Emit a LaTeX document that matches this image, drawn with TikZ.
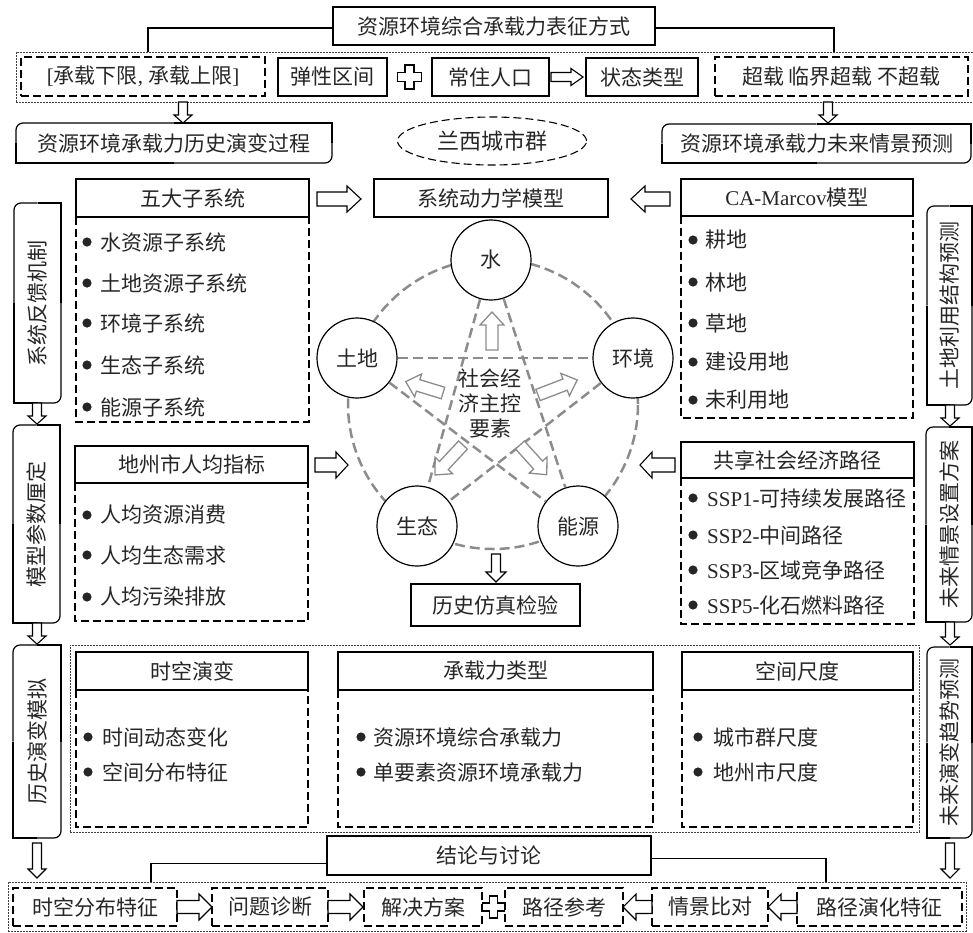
\documentclass[tikz,border=0pt]{standalone}
\usepackage{fontspec}
\setmainfont{Noto Sans CJK SC}
\newfontfamily\tnr{Liberation Serif}
\usetikzlibrary{calc,shapes.geometric}
\definecolor{txt}{HTML}{262626}
\definecolor{pgray}{HTML}{8C8C8C}
\tikzset{
 every node/.style={font=\fontsize{21}{25}\selectfont, text=txt},
 solidbox/.style={draw=black, line width=1.2pt},
 dashbox/.style={draw=black, line width=1.2pt, dash pattern=on 8pt off 4pt},
 dotbox/.style={draw=black!75, line width=1pt, dash pattern=on 2pt off 1pt},
 hollow/.style={draw=black, line width=1.1pt, fill=white},
 ghollow/.style={draw=pgray, line width=1.3pt, fill=white},
 pent/.style={draw=pgray, line width=2.5pt, dash pattern=on 10pt off 5pt},
 elem/.style={circle, draw=black, line width=1.2pt, minimum size=80pt, inner sep=0pt, fill=white},
 item/.style={anchor=west, inner sep=0pt},
 link/.style={draw=black, line width=1.1pt},
}
\newcommand\bx[7][]{\node[inner sep=0pt,outer sep=0pt,minimum width={(#5)-(#3)},minimum height={(#6)-(#4)},#1] (#2) at ({((#3)+(#5))/2},{((#4)+(#6))/2}) {#7};}
\newcommand\cornerbox[4]{%
 \draw[solidbox,rounded corners=7pt] ({((#1)+(#3))/2},#2) -- (#1,#2) -- (#1,{((#2)+(#4))/2});
 \draw[solidbox] ({((#1)+(#3))/2},#2) -- (#3,#2) -- (#3,{((#2)+(#4))/2});
 \draw[solidbox,rounded corners=7pt] (#3,{((#2)+(#4))/2}) -- (#3,#4) -- ({((#1)+(#3))/2},#4);
 \draw[solidbox] ({((#1)+(#3))/2},#4) -- (#1,#4) -- (#1,{((#2)+(#4))/2});}
\newcommand\harrow[7][hollow]{\draw[#1,shift={(#2)},rotate=#3] (0,-#5) -- ({#4-#7},-#5) -- ({#4-#7},-#6) -- (#4,0) -- ({#4-#7},#6) -- ({#4-#7},#5) -- (0,#5) -- cycle;}
\newcommand\hplus[5][hollow]{\draw[#1,shift={(#2,#3)}] (-#5,-#4) -- (#5,-#4) -- (#5,-#5) -- (#4,-#5) -- (#4,#5) -- (#5,#5) -- (#5,#4) -- (-#5,#4) -- (-#5,#5) -- (-#4,#5) -- (-#4,-#5) -- (-#5,-#5) -- cycle;}
\newcommand\itm[5]{\fill[txt] (#2,#4) circle (4.6pt); \node[item] (#1) at (#3,#4) {#5};}
\begin{document}
\begin{tikzpicture}[x=1pt,y=-1pt]
\useasboundingbox (0,0) rectangle (973,932);
% ---------- top ----------
\bx[solidbox]{top}{333}{7}{655}{45}{资源环境综合承载力表征方式}
\bx[dotbox]{row}{16}{52}{975}{102}{}
\bx[dashbox]{lim}{21}{57}{265}{96}{{\tnr[}承载下限{\tnr, }承载上限{\tnr]}}
\bx[solidbox]{elas}{278}{58}{387}{96}{弹性区间}
\bx[solidbox]{pop}{432}{58}{549}{96}{常住人口}
\bx[solidbox]{state}{586}{58}{698}{96}{状态类型}
\bx[dashbox]{over}{715}{57}{968}{96}{超载 临界超载 不超载}
\hplus{409.5}{77}{12}{4.5}
\harrow{551,77}{0}{32}{4.5}{8.5}{12}
\coordinate (c1) at (148,52);
\coordinate (c2) at (834,52);
\draw[link] ([yshift=-2pt]top.west) -| (c1);
\draw[link] ([yshift=-2pt]top.east) -| (c2);
\harrow{183,102}{-90}{21}{4.5}{9}{8}
\harrow{828,102}{-90}{21}{4.5}{9}{8}
\node (hist) at (174,143) {资源环境承载力历史演变过程};
\cornerbox{16}{123}{332}{163}
\node (fut) at (816.5,143.5) {资源环境承载力未来情景预测};
\cornerbox{662}{124}{971}{163}
\node[ellipse, draw=black, line width=1.1pt, dash pattern=on 8pt off 4pt, minimum width=189pt, minimum height=48pt, inner sep=0pt, font=\fontsize{22}{26}\selectfont] (city) at (492,141) {兰西城市群};
% ---------- left column ----------
\node[rotate=90] (fbt) at (37.5,303) {系统反馈机制};
\cornerbox{14}{203}{61}{403}
\harrow{37,403}{-90}{21}{4.5}{9}{8}
\node[rotate=90] (part) at (36.5,524) {模型参数厘定};
\cornerbox{13}{425}{60}{623}
\harrow{37,623}{-90}{21}{4.5}{9}{8}
\node[rotate=90] (hsim) at (37,741.5) {历史演变模拟};
\cornerbox{13}{645}{61}{838}
\harrow{37,843}{-90}{35}{4.5}{9}{9}
\bx[solidbox]{five}{76}{179}{309}{217}{五大子系统}
\draw[dashbox] (five.south west) -- (76,422) -- (309,422) -- (five.south east);
\itm{i11}{87}{100}{242}{水资源子系统}
\itm{i12}{87}{100}{283}{土地资源子系统}
\itm{i13}{87}{100}{323}{环境子系统}
\itm{i14}{87}{100}{365}{生态子系统}
\itm{i15}{87}{100}{407}{能源子系统}
\bx[solidbox]{per}{75}{446}{308}{483}{地州市人均指标}
\draw[dashbox] (per.south west) -- (75,621) -- (308,621) -- (per.south east);
\itm{i21}{87}{100}{515}{人均资源消费}
\itm{i22}{87}{100}{555}{人均生态需求}
\itm{i23}{87}{100}{597}{人均污染排放}
% ---------- right column ----------
\node[rotate=90] (lut) at (949.5,305.5) {土地利用结构预测};
\cornerbox{927}{206}{972}{405}
\harrow{950,405}{-90}{21}{4.5}{9}{8}
\node[rotate=90] (sct) at (949,524.5) {未来情景设置方案};
\cornerbox{926}{427}{972}{622}
\harrow{950,622}{-90}{23}{4.5}{9}{8}
\node[rotate=90] (trt) at (949.5,742.5) {未来演变趋势预测};
\cornerbox{927}{647}{972}{838}
\harrow{950,843}{-90}{35}{4.5}{9}{9}
\bx[solidbox]{ca}{681}{179}{913}{216}{{\tnr CA-Marcov}模型}
\draw[dashbox] (ca.south west) -- (681,418) -- (913,418) -- (ca.south east);
\itm{i31}{693}{705}{240}{耕地}
\itm{i32}{693}{705}{282}{林地}
\itm{i33}{693}{705}{323}{草地}
\itm{i34}{693}{705}{362}{建设用地}
\itm{i35}{693}{705}{400}{未利用地}
\bx[solidbox]{ssp}{681}{442}{914}{478}{共享社会经济路径}
\draw[dashbox] (ssp.south west) -- (681,624) -- (914,624) -- (ssp.south east);
\itm{i41}{693}{707}{498}{{\tnr SSP1-}可持续发展路径}
\itm{i42}{693}{707}{535}{{\tnr SSP2-}中间路径}
\itm{i43}{693}{707}{570}{{\tnr SSP3-}区域竞争路径}
\itm{i44}{693}{707}{605}{{\tnr SSP5-}化石燃料路径}
% ---------- center ----------
\bx[solidbox]{sd}{374}{179}{608}{217}{系统动力学模型}
\harrow{317,199}{0}{44}{7}{13}{14}
\harrow{670,199}{180}{39}{7}{13}{14}
\harrow{315,465}{0}{33}{7}{13}{12}
\harrow{675,465}{180}{35}{7}{13}{12}
\draw[pent] (493,404) circle (145pt);
\node[elem] (w) at (491,260) {水};
\node[elem] (land) at (357,358) {土地};
\node[elem] (env) at (633,358) {环境};
\node[elem] (eco) at (417,526) {生态};
\node[elem] (en) at (578,526) {能源};
\draw[pent] (w) -- (eco);
\draw[pent] (w) -- (en);
\draw[pent] (land) -- (env);
\draw[pent] (land) -- (en);
\draw[pent] (env) -- (eco);
\node[align=center] (core) at (490,403) {社会经\\济主控\\要素};
\harrow[ghollow]{492,350}{90}{38}{6}{12}{13}
\harrow[ghollow]{443,393}{163}{39}{6}{12}{13}
\harrow[ghollow]{538,395}{21}{42}{6}{12}{13}
\harrow[ghollow]{463,445}{-133}{41}{6}{12}{13}
\harrow[ghollow]{520,445}{-48}{40}{6}{12}{13}
\harrow{496,554}{-90}{28}{4.5}{10}{10}
\bx[solidbox]{valid}{411}{584}{580}{626}{历史仿真检验}
% ---------- bottom middle ----------
\bx[dotbox]{mid}{70}{645}{919}{832}{}
\bx[solidbox]{tk}{76}{652}{308}{690}{时空演变}
\draw[dashbox] (tk.south west) -- (76,827) -- (308,827) -- (tk.south east);
\itm{i51}{88}{102}{737}{时间动态变化}
\itm{i52}{88}{102}{772}{空间分布特征}
\bx[solidbox]{typ}{338}{652}{653}{690}{承载力类型}
\draw[dashbox] (typ.south west) -- (338,827) -- (653,827) -- (typ.south east);
\itm{i61}{361}{373}{737}{资源环境综合承载力}
\itm{i62}{361}{373}{772}{单要素资源环境承载力}
\bx[solidbox]{scl}{682}{652}{913}{690}{空间尺度}
\draw[dashbox] (scl.south west) -- (682,827) -- (913,827) -- (scl.south east);
\itm{i71}{698}{713}{737}{城市群尺度}
\itm{i72}{698}{713}{772}{地州市尺度}
% ---------- bottom ----------
\bx[solidbox]{concl}{327}{836}{651}{875}{结论与讨论}
\bx[dotbox]{brow}{8}{882}{966}{931}{}
\coordinate (c3) at (151,882);
\coordinate (c4) at (826,882);
\draw[link] ([yshift=-8pt]concl.west) -| (c3);
\draw[link] ([yshift=-3pt]concl.east) -| (c4);
\bx[dashbox]{b1}{13}{888}{177}{926}{时空分布特征}
\bx[dashbox]{b2}{212}{888}{328}{926}{问题诊断}
\bx[dashbox]{b3}{364}{888}{482}{926}{解决方案}
\bx[dashbox]{b4}{505}{888}{623}{926}{路径参考}
\bx[dashbox]{b5}{652}{888}{768}{926}{情景比对}
\bx[dashbox]{b6}{797}{888}{962}{926}{路径演化特征}
\harrow{177,907}{0}{35}{6.5}{13}{13}
\harrow{328,907}{0}{35}{6.5}{13}{13}
\hplus{493.5}{907}{11}{4}
\harrow{652,907}{180}{29}{6.5}{13}{13}
\harrow{797,907}{180}{29}{6.5}{13}{13}
\end{tikzpicture}
\end{document}
